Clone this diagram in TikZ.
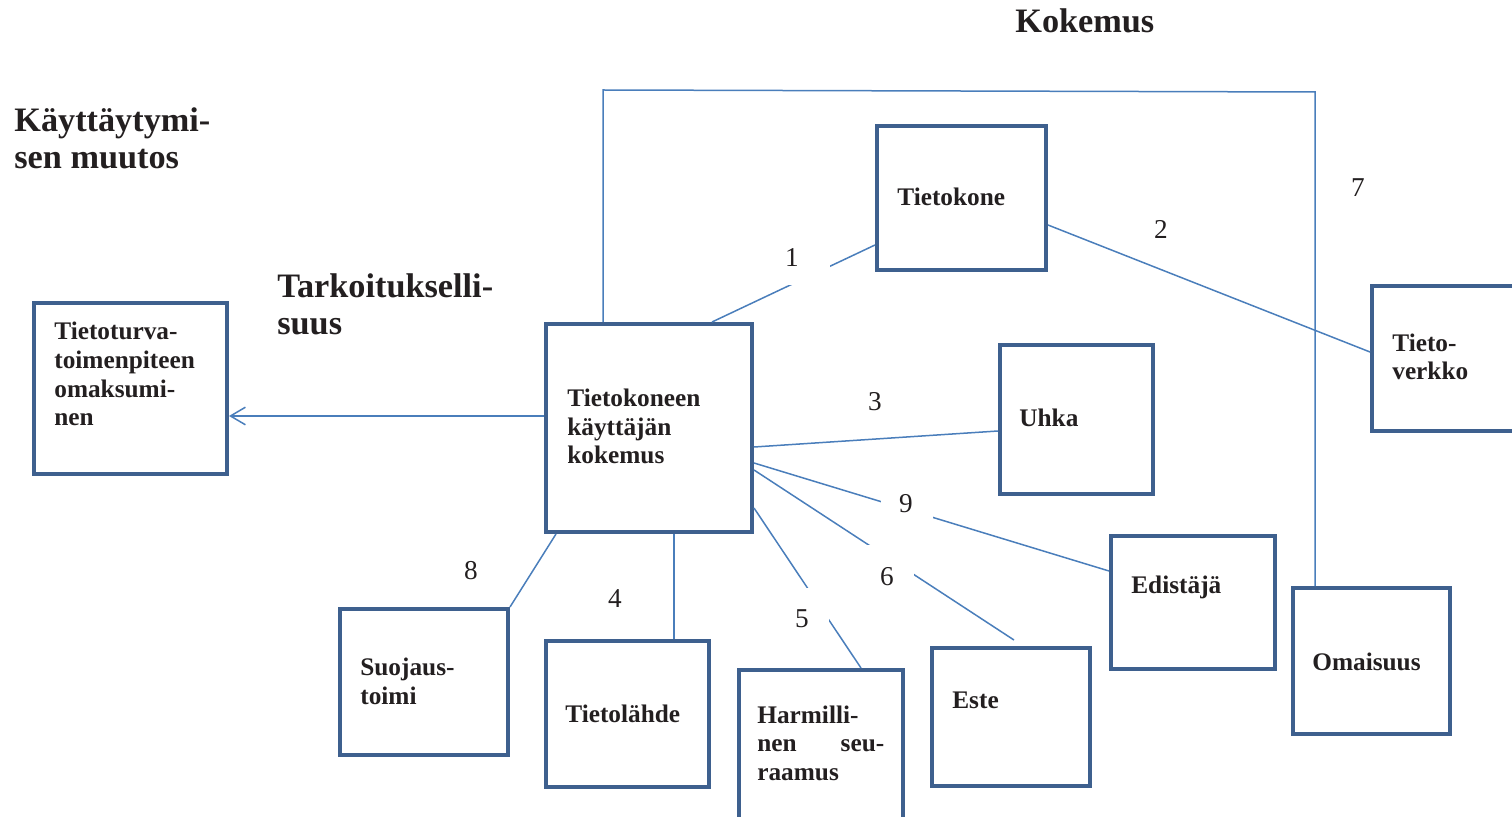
\documentclass[tikz,border=0pt]{standalone}
\usepackage{fontspec}
\setmainfont{Liberation Serif}
\usetikzlibrary{arrows.meta}
\definecolor{boxc}{RGB}{62,96,142}
\definecolor{linec}{RGB}{74,126,187}
\definecolor{ink}{RGB}{35,31,32}
\begin{document}
\begin{tikzpicture}[x=0.02cm,y=-0.02cm,
  box/.style 2 args={draw=boxc, line width=0.08cm, fill=white,
    minimum width=#1*0.02cm, minimum height=#2*0.02cm, inner sep=0pt},
  conn/.style={draw=linec, line width=0.03cm},
  boxtext/.style={anchor=base west, align=left, inner sep=0pt, text=ink,
    font=\bfseries\fontsize{14.4}{16.4}\selectfont},
  heading/.style={anchor=base west, align=left, inner sep=0pt, text=ink,
    font=\bfseries\fontsize{19.5}{21.5}\selectfont},
  num/.style={anchor=base, inner sep=0pt, text=ink,
    font=\fontsize{15.5}{18}\selectfont},
  gapfill/.style={fill=white}
]
\useasboundingbox (0,0) rectangle (1512,817);
\clip (0,0) rectangle (1512,817);

% headings (multi-line nodes are placed by the baseline of their last line)
\node[heading] (hk) at (1015,33) {Kokemus};
\node[heading] (hb) at (14,169) {Käyttäytymi-\\sen muutos};
\node[heading] (ht) at (277,335) {Tarkoituksel\-li-\\suus};

% boxes
\node[box={193}{171}] (tt)   at (130.5,388.5) {};
\node[box={206}{208}] (main) at (649,428) {};
\node[box={169}{144}] (tk)   at (961.5,198) {};
\node[box={162}{145}] (tv)   at (1453,358.5) {};
\node[box={153}{149}] (uhka) at (1076.5,419.5) {};
\node[box={164}{133}] (ed)   at (1193,602.5) {};
\node[box={157}{146}] (om)   at (1371.5,661) {};
\node[box={158}{138}] (este) at (1011,717) {};
\node[box={164}{160}] (harm) at (821,750) {};
\node[box={163}{146}] (tl)   at (627.5,714) {};
\node[box={168}{146}] (sj)   at (424,682) {};

% box texts
\node[boxtext] (tt-t)   at (54,426) {Tietoturva-\\toimenpiteen\\omaksumi-\\nen};
\node[boxtext] (main-t) at (567,464) {Tietokoneen\\käyttäjän\\kokemus};
\node[boxtext] (tk-t)   at (897,206) {Tietokone};
\node[boxtext] (tv-t)   at (1392,380) {Tieto-\\verkko};
\node[boxtext] (uhka-t) at (1019,427) {Uhka};
\node[boxtext] (ed-t)   at (1131,593) {Edistäjä};
\node[boxtext] (om-t)   at (1312,670) {Omaisuus};
\node[boxtext] (este-t) at (952,708) {Este};
\node[boxtext, text width=2.54cm] (harm-t) at (757,723) {Harmilli-\\nen\hfill seu-\\raamus};
\node[boxtext] (tl-t)   at (565,722) {Tietolähde};
\node[boxtext] (sj-t)   at (360,704) {Suojaus-\\toimi};

% connectors
\draw[conn, -{Straight Barb[length=8.5pt,width=10pt]}] (main.west |- 0,416) -- (tt.east |- 0,416);
\draw[conn] (main.north -| 712,0) -- (tk.west |- 0,245);
\draw[conn] (tk.east |- 0,225) -- (tv.west |- 0,352);
\draw[conn] (main.east |- 0,447) -- (uhka.west |- 0,431);
\draw[conn] (main.east |- 0,463) -- (ed.west |- 0,571);
\draw[conn] (main.east |- 0,470) -- ([yshift=3.4pt]este.north -| 1014,0);
\draw[conn] (main.east |- 0,508) -- (harm.north -| 861,0);
\draw[conn] (main.south -| 674,0) -- (tl.north -| 674,0);
\draw[conn] (main.south -| 556,0) -- (sj.north east);
\draw[conn] (main.north -| 603,0) -- (603,90) -- (1315,92) -- (om.north -| 1315,0);

% white text frames that interrupt the connectors
\fill[gapfill] (775,240) rectangle (830,285);
\fill[gapfill] (785,588) rectangle (829,640);
\fill[gapfill] (862,545) rectangle (914,600);
\fill[gapfill] (881,485) rectangle (933,530);

% connector numbers
\node[num] (n1) at (792,267) {1};
\node[num] (n2) at (1161,239) {2};
\node[num] (n3) at (875,411) {3};
\node[num] (n4) at (615,607) {4};
\node[num] (n5) at (802,627) {5};
\node[num] (n6) at (887,585) {6};
\node[num] (n7) at (1358,197) {7};
\node[num] (n8) at (471,580) {8};
\node[num] (n9) at (906,513) {9};
\end{tikzpicture}
\end{document}
